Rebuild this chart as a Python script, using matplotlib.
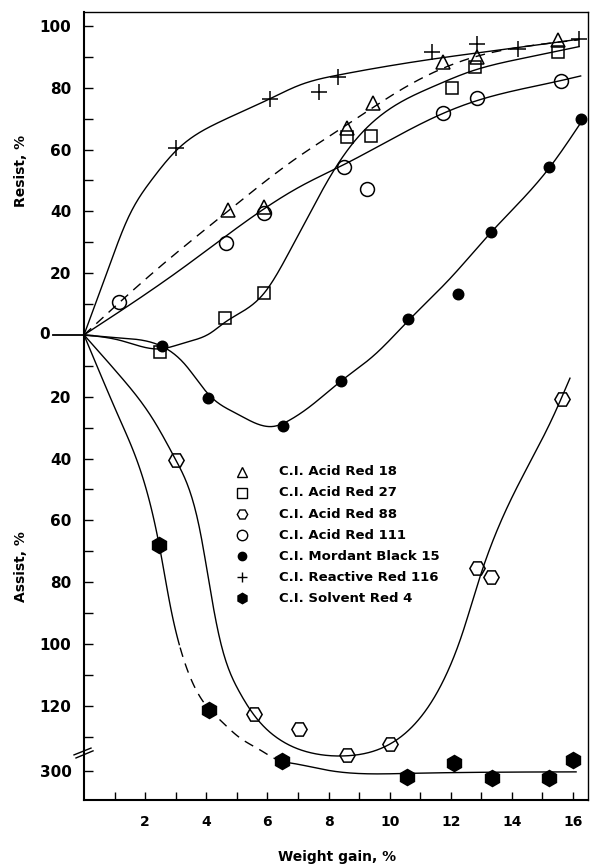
import numpy as np
import matplotlib
matplotlib.use("Agg")
import matplotlib.pyplot as plt
from matplotlib.transforms import blended_transform_factory

plt.rcParams['font.family'] = ['DejaVu Sans']
plt.rcParams['font.weight'] = 'bold'

# ---- measured points: weight gain (%) vs resist (+) / assist (-) ----
# assist values around 300 % sit below the axis break
ar18_x = [4.7, 5.9, 8.6, 9.45, 11.75, 12.85, 15.5]
ar18_y = [40.5, 41.5, 67, 75, 88.4, 90, 95.5]

ar27_x = [2.5, 4.6, 5.9, 8.6, 9.4, 12.05, 12.8, 15.5]
ar27_y = [-5.5, 5.5, 13.6, 64.2, 64.4, 79.8, 86.8, 91.7]

ar88_x = [3.0, 5.55, 7.05, 8.6, 10.0, 12.85, 13.3, 15.65]
ar88_y = [-40.4, -122.7, -127.6, -136, -132.5, -75.5, -78.2, -20.8]

ar111_x = [1.15, 4.65, 5.9, 8.5, 9.25, 11.75, 12.85, 15.6]
ar111_y = [10.8, 29.7, 39.4, 54.5, 47.1, 71.7, 76.6, 82.3]

mb15_x = [2.55, 4.05, 6.5, 8.4, 10.6, 12.25, 13.3, 15.2, 16.25]
mb15_y = [-3.7, -20.5, -29.5, -15, 5, 13.2, 33.4, 54.5, 69.8]

rr116_x = [3.0, 6.1, 7.7, 8.3, 11.4, 12.85, 14.2, 16.2]
rr116_y = [60.5, 76.4, 78.7, 83.6, 91.7, 94, 92.4, 95.7]

sr4_x = [2.46, 4.1, 6.47, 10.56, 12.1, 13.35, 15.2, 16.0]
sr4_y = [-68, -121.5, -297, -302, -297.5, -302.4, -302.4, -296.5]

# ---- fitted curves, knots ----
rr116_cx = [0, 0.78, 1.45, 2.2, 3.0, 4.35, 6.1, 7.07, 8.32, 11.43, 14.2, 16.2]
rr116_cy = [0, 21, 38, 50, 59.5, 68.5, 76.5, 80.9, 84.1, 89.3, 93, 95.7]

ar18_cx = [0, 2.3, 4.7, 6.85, 8.6, 10.66, 12.9, 14.4, 16.2]
ar18_cy = [0, 20.5, 40, 56.5, 68, 81, 90.3, 93.3, 95.5]

ar111_cx = [0, 3.14, 7.07, 8.48, 11.75, 12.85, 15.6, 16.25]
ar111_cy = [0, 21, 48, 55, 71.7, 75.8, 82.3, 83.8]

ar27_cx = [0, 1.2, 2.5, 3.3, 4.12, 4.6, 5.9, 6.75, 7.45, 8.16, 8.92, 10.12,
           11.43, 12.63, 14.4, 16.2]
ar27_cy = [0, -1.8, -4.5, -2.5, 0.5, 4, 13.6, 27.5, 40.5, 53, 63.5, 73.9,
           80.4, 85.2, 89.6, 93.3]

mb15_cx = [0, 1.2, 2.55, 3.3, 4.1, 5.0, 6.2, 6.74, 7.39, 8.4, 9.5, 10.6,
           12.0, 13.3, 15.25, 16.25]
mb15_cy = [0, -1.0, -3.7, -9.5, -19.5, -25.5, -29.6, -27.5, -23.2, -15, -6.5,
           4.5, 18.5, 33, 54.4, 68.6]

ar88_cx = [0, 1.2, 2.27, 3.0, 3.79, 4.19, 4.45, 5.05, 5.54, 6.41, 7.5, 8.59,
           9.99, 10.99, 11.8, 12.4, 12.9, 14.26, 15.35, 15.9]
ar88_cy = [0, -13.5, -27.5, -40.4, -63.1, -85.8, -98.7, -114.9, -122.7, -131,
           -135.4, -136.2, -132.5, -124, -111, -96, -80, -47.5, -26.4, -14]

sr4_cx = [0, 1.18, 2.46, 2.85, 3.14, 4.12, 4.45, 5.05, 5.76, 6.47, 6.74, 8.05,
          10.56, 16.1]
sr4_cy = [0, -27.5, -68, -89, -101, -121.4, -124.6, -130, -134.3, -297, -297.5,
          -300, -300.9, -300.4]
sr4_dash = (3.14, 6.47)   # part of the curve drawn dashed

resist_ticks = [0, 20, 40, 60, 80, 100]
assist_ticks = [20, 40, 60, 80, 100, 120, 300]

BREAK_SHIFT = 159  # 300 % assist is drawn at -141 on the linear scale


def to_axis(v):
    v = np.asarray(v, dtype=float)
    return np.where(v < -200, v + BREAK_SHIFT, v)


def smooth(xk, yk, n=600):
    # natural cubic spline through the traced knots
    x = np.asarray(xk, float)
    y = to_axis(yk)
    h = np.diff(x)
    k = len(x)
    A = np.zeros((k - 2, k - 2))
    r = np.zeros(k - 2)
    for i in range(k - 2):
        A[i, i] = 2 * (h[i] + h[i + 1])
        if i > 0:
            A[i, i - 1] = h[i]
        if i < k - 3:
            A[i, i + 1] = h[i + 1]
        r[i] = 6 * ((y[i + 2] - y[i + 1]) / h[i + 1] - (y[i + 1] - y[i]) / h[i])
    M = np.zeros(k)
    M[1:-1] = np.linalg.solve(A, r)
    xs = np.linspace(x[0], x[-1], n)
    i = np.clip(np.searchsorted(x, xs) - 1, 0, k - 2)
    hi = h[i]
    a = x[i + 1] - xs
    b = xs - x[i]
    ys = (M[i] * a**3 / (6 * hi) + M[i + 1] * b**3 / (6 * hi)
          + (y[i] / hi - M[i] * hi / 6) * a + (y[i + 1] / hi - M[i + 1] * hi / 6) * b)
    return xs, ys


fig = plt.figure(figsize=(5.92, 8.65), dpi=100)
ax = fig.add_axes([84 / 592, 1 - 800 / 865, 504 / 592, 788 / 865])
ax.set_xlim(0, 16.49)
ax.set_ylim(-150.5, 104.5)

lw = 1.0
# curves
for cx, cy in [(rr116_cx, rr116_cy), (ar111_cx, ar111_cy), (ar27_cx, ar27_cy),
               (mb15_cx, mb15_cy), (ar88_cx, ar88_cy)]:
    xs, ys = smooth(cx, cy)
    ax.plot(xs, ys, color='black', lw=lw, zorder=2)

xs, ys = smooth(ar18_cx, ar18_cy)
ax.plot(xs, ys, color='black', lw=lw, dashes=(7, 5), zorder=2)

xs, ys = smooth(sr4_cx, sr4_cy)
a, b = sr4_dash
ax.plot(xs[xs <= a], ys[xs <= a], color='black', lw=lw, zorder=2)
mid = (xs >= a) & (xs <= b)
ax.plot(xs[mid], ys[mid], color='black', lw=lw, dashes=(7, 5), zorder=2)
ax.plot(xs[xs >= b], ys[xs >= b], color='black', lw=lw, zorder=2)

# markers
series = [
    ('C.I. Acid Red 18', ar18_x, ar18_y, dict(marker='^', ms=10.5, mfc='none'), 7),
    ('C.I. Acid Red 27', ar27_x, ar27_y, dict(marker='s', ms=9.2, mfc='none'), 7.5),
    ('C.I. Acid Red 88', ar88_x, ar88_y, dict(marker='H', ms=11, mfc='none'), 7.5),
    ('C.I. Acid Red 111', ar111_x, ar111_y, dict(marker='o', ms=10, mfc='none'), 7.5),
    ('C.I. Mordant Black 15', mb15_x, mb15_y, dict(marker='o', ms=7.5, mfc='black'), 6),
    ('C.I. Reactive Red 116', rr116_x, rr116_y, dict(marker='+', ms=12, mfc='none'), 7.5),
    ('C.I. Solvent Red 4', sr4_x, sr4_y, dict(marker='h', ms=11.5, mfc='black'), 7.5),
]
for label, x, y, st, _ in series:
    ax.plot(x, to_axis(y), ls='none', mec='black', mew=1.1, zorder=3, **st)

# legend drawn in data space inside the plot
leg_x, txt_x, leg_y, step = 5.17, 6.38, -44.3, -6.83
for k, (label, _, _, st, lms) in enumerate(series):
    yy = leg_y + k * step
    ax.plot([leg_x], [yy], ls='none', mec='black', mew=1.0,
            **{**st, 'ms': lms})
    ax.text(txt_x, yy, label, fontsize=9.5, fontweight='bold', va='center', ha='left')

# axes styling
for s in ['left', 'bottom']:
    ax.spines[s].set_linewidth(1.5)
for s in ['top', 'right']:
    ax.spines[s].set_linewidth(1.0)

ax.set_xticks(range(2, 17, 2))
ax.set_xticks(range(1, 17, 2), minor=True)
ax.tick_params(axis='x', which='both', direction='in', length=6, width=1.0,
               pad=11, labelsize=10)

ypos = [float(v) for v in resist_ticks] + [float(to_axis(-v)) for v in assist_ticks]
ylab = [('' if v == 0 else str(v)) for v in resist_ticks] + [str(v) for v in assist_ticks]
ax.set_yticks(ypos)
ax.set_yticklabels(ylab)
ax.set_yticks([10, 30, 50, 70, 90] + [-10 - 20 * k for k in range(7)], minor=True)
ax.tick_params(axis='y', which='both', direction='in', length=6.5, width=1.0,
               pad=9, labelsize=11)
for t in ax.get_xticklabels() + ax.get_yticklabels():
    t.set_fontweight('bold')

trans = blended_transform_factory(ax.transAxes, ax.transData)
# zero line out to the "0" label
ax.plot([-0.0615, 0], [0, 0], color='black', lw=1.3, transform=trans, clip_on=False)
ax.text(-0.0675, 0, '0', transform=trans, ha='right', va='center', fontsize=11,
        fontweight='bold')
# axis break marks
ax.plot([-0.0198, 0.0139], [-135.9, -133.7], color='black', lw=1.0,
        transform=trans, clip_on=False)
ax.plot([-0.0159, 0.0179], [-136.9, -134.6], color='black', lw=1.0,
        transform=trans, clip_on=False)

ax.text(-0.125, 53, 'Resist, %', transform=trans, rotation=90, ha='center',
        va='center', fontsize=10, fontweight='bold')
ax.text(-0.125, -74.8, 'Assist, %', transform=trans, rotation=90, ha='center',
        va='center', fontsize=10, fontweight='bold')
fig.text(337 / 592, 1 - 856.5 / 865, 'Weight gain, %', ha='center', va='center',
         fontsize=10, fontweight='bold')

fig.savefig('out.png', dpi=100)
